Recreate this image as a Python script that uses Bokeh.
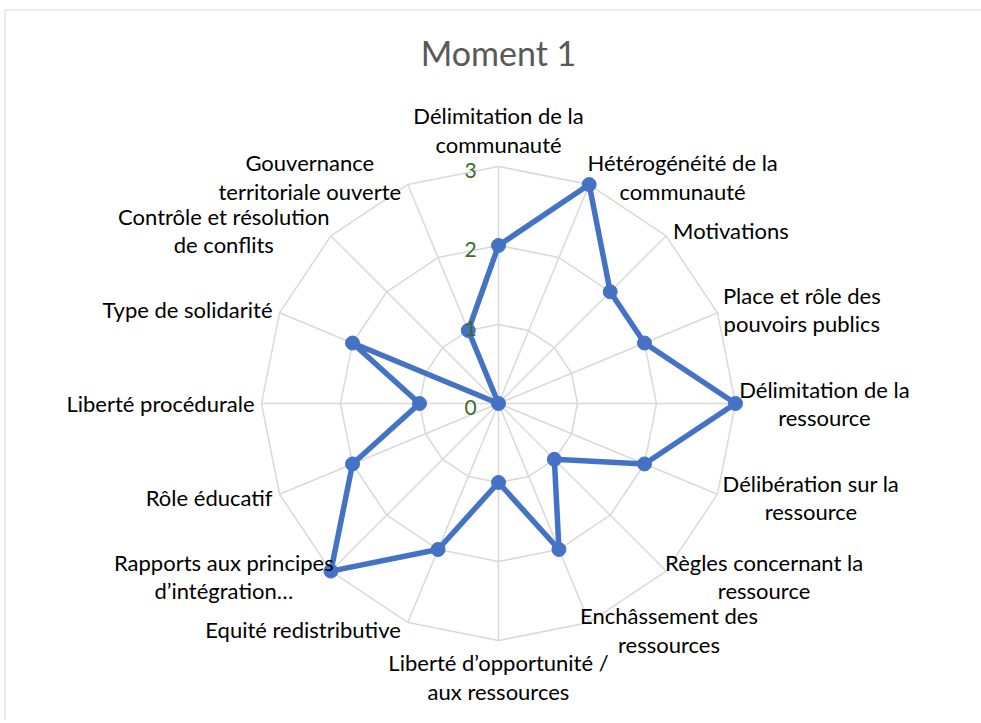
import math
from bokeh.plotting import figure
from bokeh.models import Range1d
from bokeh.core.properties import value
from bokeh.embed import file_html
from bokeh.resources import INLINE

# ---------------- data ----------------
title = "Moment 1"
categories = [
    "Délimitation de la\ncommunauté",
    "Hétérogénéité de la\ncommunauté",
    "Motivations",
    "Place et rôle des\npouvoirs publics",
    "Délimitation de la\nressource",
    "Délibération sur la\nressource",
    "Règles concernant la\nressource",
    "Enchâssement des\nressources",
    "Liberté d’opportunité /\naux ressources",
    "Equité redistributive",
    "Rapports aux principes\nd’intégration…",
    "Rôle éducatif",
    "Liberté procédurale",
    "Type de solidarité",
    "Contrôle et résolution\nde conflits",
    "Gouvernance\nterritoriale ouverte",
]
values = [2, 3, 2, 2, 3, 2, 1, 2, 1, 2, 3, 2, 1, 2, 0, 1]
ticks = [0, 1, 2, 3]
tick_labels = ["0", "1", "2", "3"]

# ---------------- layout ----------------
W, H = 981, 720
U = 79.0            # pixels per value unit
CX, CY = 498, 403   # radar centre in figure pixels (from left, from top)
RMAX = max(ticks)
N = len(categories)
FONT = "Lato"
LAB_FS = "22px"
LH = 28.5           # line height px
CW = 9.1            # approx px per char (for centring multi-line blocks)

GRID = "#d9d9d9"
SERIES = "#4472C4"

def px(v):
    return v / U

p = figure(width=W, height=H,
           x_range=Range1d(-CX / U, (W - CX) / U),
           y_range=Range1d(-(H - CY) / U, CY / U),
           output_backend="svg", toolbar_location=None, min_border=0)
p.axis.visible = False
p.grid.visible = False
p.outline_line_color = None
p.background_fill_color = "white"
p.border_fill_color = "white"

# chart border (left and top only visible)
xl = p.x_range.start + px(4.5)
xr = p.x_range.end
yt = p.y_range.end - px(9.5)
yb = p.y_range.start
p.segment(x0=[xl, xl], y0=[yb, yt], x1=[xl, xr], y1=[yt, yt],
          line_color=GRID, line_width=1)

angles = [2 * math.pi * i / N for i in range(N)]

# rings
for t in ticks[1:]:
    xs = [t * math.sin(a) for a in angles] + [t * math.sin(angles[0])]
    ys = [t * math.cos(a) for a in angles] + [t * math.cos(angles[0])]
    p.line(xs, ys, line_color=GRID, line_width=1.5)

# spokes
p.multi_line(xs=[[0, RMAX * math.sin(a)] for a in angles],
             ys=[[0, RMAX * math.cos(a)] for a in angles],
             line_color=GRID, line_width=1.5)

# series
sx = [v * math.sin(a) for v, a in zip(values, angles)]
sy = [v * math.cos(a) for v, a in zip(values, angles)]
p.line(sx + sx[:1], sy + sy[:1], line_color=SERIES, line_width=5.5,
       line_join="round")
p.scatter(sx, sy, size=14, fill_color=SERIES, line_color=SERIES)

# tick labels
p.text(x=[px(-28)] * len(ticks), y=[t - px(4) for t in ticks], text=tick_labels,
       text_font=value(FONT), text_font_size=value("21px"),
       text_color="#3b6b2a", text_align="center", text_baseline="middle")

# category labels
groups = {"left": ([], [], []), "center": ([], [], []), "right": ([], [], [])}
for lab, a in zip(categories, angles):
    s, c = math.sin(a), math.cos(a)
    vx, vy = RMAX * s * U, RMAX * c * U
    lines = lab.split("\n")
    n = len(lines)
    if abs(s) < 1e-9:
        cx = vx
        cy = vy + (1 if c > 0 else -1) * (8 + n * LH / 2)
        align = "center"
    else:
        d = 1 if s > 0 else -1
        pad = 7
        cy = vy + 8 * c
        if n == 1:
            cx = vx + d * pad
            align = "left" if d > 0 else "right"
        else:
            wmax = max(len(l) for l in lines) * CW
            cx = vx + d * (pad + wmax / 2)
            align = "center"
    for j, line in enumerate(lines):
        yy = cy + ((n - 1) / 2 - j) * LH
        g = groups[align]
        g[0].append(px(cx)); g[1].append(px(yy)); g[2].append(line)

for align, (gx, gy, gt) in groups.items():
    if gt:
        p.text(x=gx, y=gy, text=gt, text_font=value(FONT),
               text_font_size=value(LAB_FS), text_color="#000000",
               text_align=align, text_baseline="middle")

# title
p.text(x=[0], y=[px(CY - 52)], text=[title], text_font=value(FONT),
       text_font_size=value("34px"), text_color="#595959",
       text_align="center", text_baseline="middle")

open("out.html", "w").write(file_html(p, INLINE))
